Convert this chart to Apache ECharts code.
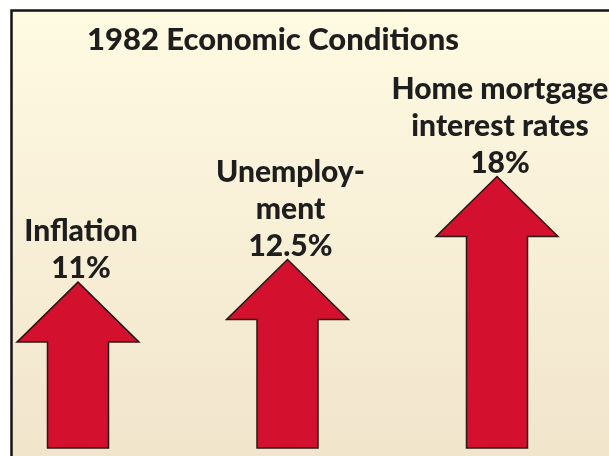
<!DOCTYPE html>
<html>
<head>
<meta charset="utf-8">
<script src="https://cdn.jsdelivr.net/npm/echarts@6/dist/echarts.min.js"></script>
<style>
  html, body { margin: 0; padding: 0; background: #fff; }
  #chart { width: 609px; height: 456px; }
</style>
</head>
<body>
<div id="chart"></div>
<script>
const titleText = '1982 Economic Conditions'
const categories = ['Inflation', 'Unemploy-\nment', 'Home mortgage\ninterest rates']
const values = [11, 12.5, 18]

const chart = echarts.init(document.getElementById('chart'))

// arrow shape, px
const headH = 60
const headW = 122
const shaftW = 61

chart.setOption({
  backgroundColor: '#fff',
  animation: false,
  title: {
    text: titleText,
    left: 82,
    top: 19,
    textStyle: { fontFamily: 'Lato', fontWeight: 900, fontSize: 31, color: '#1e1e1e' }
  },
  graphic: [{
    type: 'rect',
    z: -10,
    shape: { x: 11.5, y: 10.5, width: 700, height: 500 },
    style: {
      fill: new echarts.graphic.LinearGradient(0, 0, 0, 1, [
        { offset: 0, color: '#fffae2' },
        { offset: 1, color: '#efe2c9' }
      ]),
      stroke: '#151515',
      lineWidth: 2.5
    }
  }],
  grid: { left: 78, right: 112, top: 146.4, bottom: 8 },
  xAxis: {
    type: 'category',
    data: categories,
    boundaryGap: false,
    show: false
  },
  yAxis: {
    type: 'value',
    min: 0,
    max: 20,
    show: false
  },
  series: [{
    type: 'custom',
    clip: false,
    data: values.map((v, i) => [i, v]),
    renderItem(params, api) {
      const tip = api.coord([api.value(0), api.value(1)])
      const base = api.coord([api.value(0), 0])
      const cx = tip[0]
      const hb = tip[1] + headH
      return {
        type: 'group',
        children: [{
          type: 'polygon',
          shape: {
            points: [
              [cx, tip[1]],
              [cx + headW / 2, hb],
              [cx + shaftW / 2, hb],
              [cx + shaftW / 2, base[1]],
              [cx - shaftW / 2, base[1]],
              [cx - shaftW / 2, hb],
              [cx - headW / 2, hb]
            ]
          },
          style: { fill: '#d4102f', stroke: '#2a1614', lineWidth: 1.5 }
        }, {
          type: 'text',
          style: {
            text: categories[params.dataIndex] + '\n' + values[params.dataIndex] + '%',
            x: cx + 3,
            y: tip[1] + 5,
            align: 'center',
            verticalAlign: 'bottom',
            fontFamily: 'Lato',
            fontWeight: 900,
            fontSize: 30,
            lineHeight: 37,
            fill: '#1e1e1e'
          }
        }]
      }
    }
  }]
})
</script>
</body>
</html>
